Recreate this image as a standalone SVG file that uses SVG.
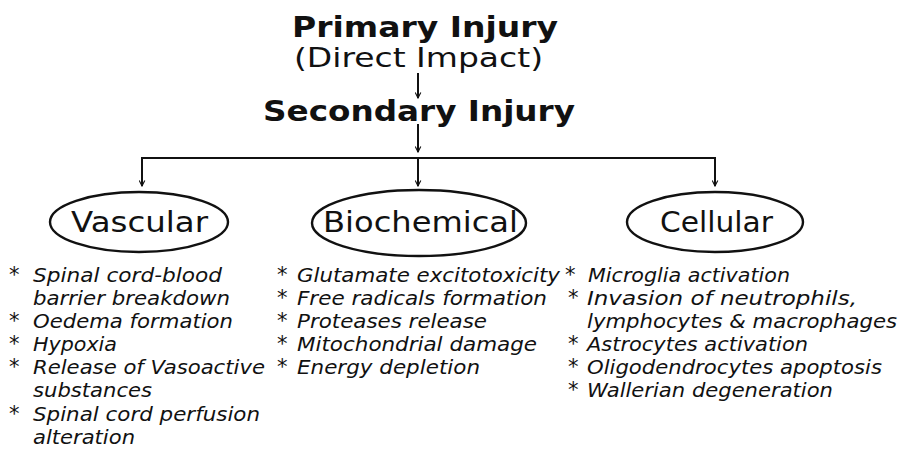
<svg xmlns="http://www.w3.org/2000/svg" width="901" height="449" viewBox="0 0 901 449">
<style>
text{font-family:"DejaVu Sans","Verdana",sans-serif;fill:#111}
.title{font-weight:bold;font-size:28px}
.sub{font-size:27px}
.cat{font-size:28px}
.item{font-style:italic;font-size:19px}
.ast{font-size:21px}
.line{stroke:#111;stroke-width:2;fill:none}
.ell{stroke:#111;stroke-width:2.4;fill:#fff}
</style>
<defs>
<marker id="arr" viewBox="0 0 10 10" refX="9" refY="5" markerWidth="7" markerHeight="7" orient="auto" markerUnits="userSpaceOnUse">
<path d="M1,1 L9,5 L1,9" fill="none" stroke="#111" stroke-width="1.6"/>
</marker>
</defs>
<rect width="901" height="449" fill="#fff"/>
<g id="primary">
<text class="title" x="292" y="37" textLength="266" lengthAdjust="spacingAndGlyphs">Primary Injury</text>
<text class="sub" x="294" y="67" textLength="249" lengthAdjust="spacingAndGlyphs">(Direct Impact)</text>
</g>
<g id="secondary">
<text class="title" x="263" y="121" textLength="312" lengthAdjust="spacingAndGlyphs">Secondary Injury</text>
</g>
<g id="connectors">
<line class="line" x1="418" y1="73" x2="418" y2="98" marker-end="url(#arr)"/>
<line class="line" x1="418" y1="124" x2="418" y2="152" marker-end="url(#arr)"/>
<polyline class="line" points="142,185 142,158 715,158 715,185"/>
<line class="line" x1="142" y1="170" x2="142" y2="186" marker-end="url(#arr)"/>
<line class="line" x1="715" y1="170" x2="715" y2="186" marker-end="url(#arr)"/>
<line class="line" x1="418" y1="158" x2="418" y2="186" marker-end="url(#arr)"/>
</g>
<g id="vascular">
<ellipse class="ell" cx="139" cy="222" rx="89" ry="30"/>
<text class="cat" x="71" y="232" textLength="137" lengthAdjust="spacingAndGlyphs">Vascular</text>
<text class="ast" x="9" y="282">*</text>
<text class="item" x="33" y="282" textLength="189" lengthAdjust="spacingAndGlyphs">Spinal cord-blood</text>
<text class="item" x="33" y="305" textLength="197" lengthAdjust="spacingAndGlyphs">barrier breakdown</text>
<text class="ast" x="9" y="328">*</text>
<text class="item" x="33" y="328" textLength="200" lengthAdjust="spacingAndGlyphs">Oedema formation</text>
<text class="ast" x="9" y="351">*</text>
<text class="item" x="33" y="351" textLength="84" lengthAdjust="spacingAndGlyphs">Hypoxia</text>
<text class="ast" x="9" y="374">*</text>
<text class="item" x="33" y="374" textLength="232" lengthAdjust="spacingAndGlyphs">Release of Vasoactive</text>
<text class="item" x="33" y="397" textLength="119" lengthAdjust="spacingAndGlyphs">substances</text>
<text class="ast" x="9" y="421">*</text>
<text class="item" x="33" y="421" textLength="227" lengthAdjust="spacingAndGlyphs">Spinal cord perfusion</text>
<text class="item" x="33" y="444" textLength="102" lengthAdjust="spacingAndGlyphs">alteration</text>
</g>
<g id="biochemical">
<ellipse class="ell" cx="419" cy="223" rx="107" ry="33"/>
<text class="cat" x="323" y="232" textLength="195" lengthAdjust="spacingAndGlyphs">Biochemical</text>
<text class="ast" x="277" y="282">*</text>
<text class="item" x="297" y="282" textLength="263" lengthAdjust="spacingAndGlyphs">Glutamate excitotoxicity</text>
<text class="ast" x="277" y="305">*</text>
<text class="item" x="297" y="305" textLength="250" lengthAdjust="spacingAndGlyphs">Free radicals formation</text>
<text class="ast" x="277" y="328">*</text>
<text class="item" x="297" y="328" textLength="190" lengthAdjust="spacingAndGlyphs">Proteases release</text>
<text class="ast" x="277" y="351">*</text>
<text class="item" x="297" y="351" textLength="240" lengthAdjust="spacingAndGlyphs">Mitochondrial damage</text>
<text class="ast" x="277" y="374">*</text>
<text class="item" x="297" y="374" textLength="183" lengthAdjust="spacingAndGlyphs">Energy depletion</text>
</g>
<g id="cellular">
<ellipse class="ell" cx="715" cy="222" rx="88" ry="30"/>
<text class="cat" x="660" y="232" textLength="113" lengthAdjust="spacingAndGlyphs">Cellular</text>
<text class="ast" x="565" y="282">*</text>
<text class="item" x="588" y="282" textLength="202" lengthAdjust="spacingAndGlyphs">Microglia activation</text>
<text class="ast" x="568" y="305">*</text>
<text class="item" x="587" y="305" textLength="270" lengthAdjust="spacingAndGlyphs">Invasion of neutrophils,</text>
<text class="item" x="587" y="328" textLength="310" lengthAdjust="spacingAndGlyphs">lymphocytes &amp; macrophages</text>
<text class="ast" x="568" y="351">*</text>
<text class="item" x="587" y="351" textLength="221" lengthAdjust="spacingAndGlyphs">Astrocytes activation</text>
<text class="ast" x="568" y="374">*</text>
<text class="item" x="587" y="374" textLength="295" lengthAdjust="spacingAndGlyphs">Oligodendrocytes apoptosis</text>
<text class="ast" x="568" y="397">*</text>
<text class="item" x="587" y="397" textLength="246" lengthAdjust="spacingAndGlyphs">Wallerian degeneration</text>
</g>
</svg>
